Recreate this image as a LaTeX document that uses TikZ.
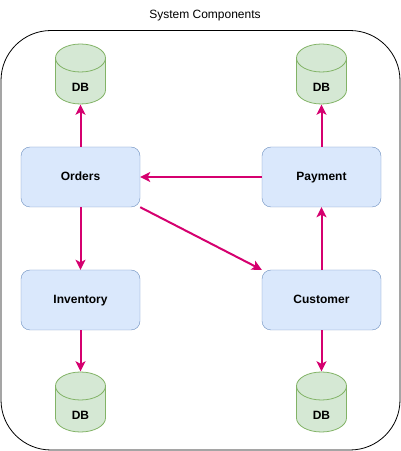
\documentclass[tikz,border=0pt]{standalone}
\usepackage{fontspec}
\setmainfont{Liberation Sans}
\usetikzlibrary{arrows.meta}

\definecolor{boxfill}{HTML}{DAE8FC}
\definecolor{boxline}{HTML}{6C8EBF}
\definecolor{dbfill}{HTML}{D5E8D4}
\definecolor{dbline}{HTML}{82B366}
\definecolor{flow}{HTML}{D5006F}

\begin{document}
\begin{tikzpicture}[x=1pt,y=1pt,
		comp_style/.style={rectangle,rounded corners=9pt,draw=boxline,fill=boxfill,
			minimum width=119pt,minimum height=60pt,text height=9pt,text depth=2.5pt,
			font=\fontsize{12}{14}\selectfont\bfseries},
		db_style/.style={rectangle,minimum width=52pt,minimum height=61pt,inner sep=0pt,
			path picture={
				\begin{scope}[shift={(path picture bounding box.center)}]
				\path[draw=dbline,fill=dbfill,line width=0.8pt] (-25,16) -- (-25,-16)
					arc[start angle=180,end angle=360,x radius=25,y radius=14] -- (25,16)
					arc[start angle=0,end angle=180,x radius=25,y radius=14] -- cycle;
				\draw[dbline,line width=0.8pt] (-25,16) arc[start angle=180,end angle=360,x radius=25,y radius=14];
				\end{scope}},
			label={[yshift=-13pt,font=\fontsize{12}{14}\selectfont\bfseries]center:DB}},
		edge_style/.style={draw=flow,line width=2pt,-{Stealth[length=10pt,width=10pt,inset=2.5pt]}}]

		\useasboundingbox (0,0) rectangle (401,451);
		\draw[black,line width=0.8pt,rounded corners=50pt] (1,1) rectangle (400,420.5);
		\node (title) at (205,435) {\fontsize{12}{14}\selectfont System Components};

		\node[comp_style] (orders) at (80.5,274)  {Orders};
		\node[comp_style] (payment) at (321.5,274)  {Payment};
		\node[comp_style] (inventory) at (80.5,151)  {Inventory};
		\node[comp_style] (customer) at (321.5,151)  {Customer};

		\node[db_style] (db1) at (80.5,377)  {};
		\node[db_style] (db2) at (321.5,377)  {};
		\node[db_style] (db3) at (80.5,49)  {};
		\node[db_style] (db4) at (321.5,49)  {};

		\draw[edge_style]  (orders) -- (db1);
		\draw[edge_style]  (payment) -- (db2);
		\draw[edge_style]  (payment) -- (orders);
		\draw[edge_style]  (orders.south east) -- (customer.north west);
		\draw[edge_style]  (customer) -- (payment);
		\draw[edge_style]  (orders) -- (inventory);
		\draw[edge_style]  (inventory) -- (db3);
		\draw[edge_style]  (customer) -- (db4);

\end{tikzpicture}
\end{document}
